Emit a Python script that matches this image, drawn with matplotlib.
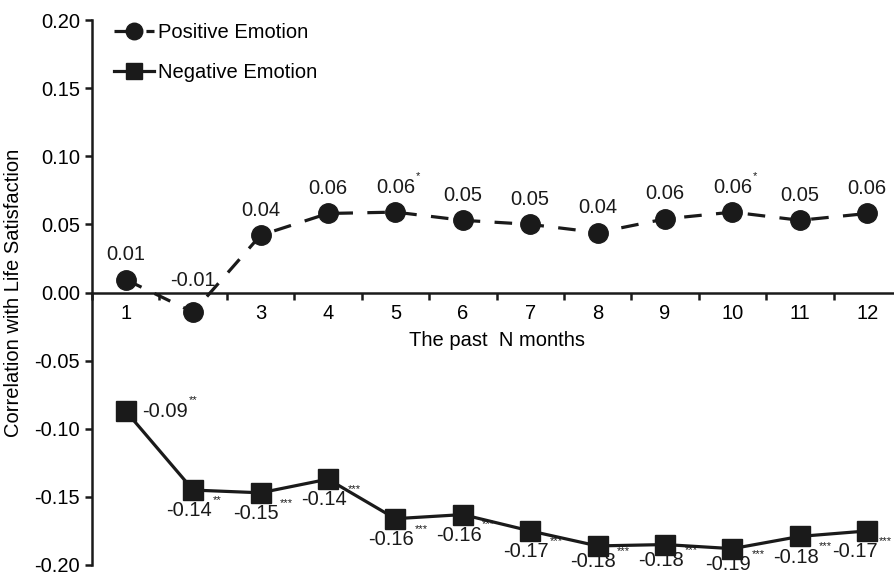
import matplotlib
matplotlib.use("Agg")
from matplotlib import pyplot as plt

# data
months = [1, 2, 3, 4, 5, 6, 7, 8, 9, 10, 11, 12]
positive = [0.0095, -0.0145, 0.042, 0.058, 0.059, 0.053, 0.050, 0.044, 0.054, 0.059, 0.053, 0.058]
negative = [-0.087, -0.145, -0.147, -0.137, -0.166, -0.163, -0.175, -0.186, -0.185, -0.188, -0.179, -0.175]

pos_labels = ["0.01", "-0.01", "0.04", "0.06", "0.06", "0.05", "0.05", "0.04", "0.06", "0.06", "0.05", "0.06"]
pos_stars = ["", "", "", "", "*", "", "", "", "", "*", "", ""]
neg_labels = ["-0.09", "-0.14", "-0.15", "-0.14", "-0.16", "-0.16", "-0.17", "-0.18", "-0.18", "-0.19", "-0.18", "-0.17"]
neg_stars = ["**", "**", "***", "***", "***", "***", "***", "***", "***", "***", "***", "***"]

yticks = [-0.20, -0.15, -0.10, -0.05, 0.00, 0.05, 0.10, 0.15, 0.20]

plt.rcParams['font.family'] = ['Liberation Sans', 'DejaVu Sans']
plt.rcParams['axes.unicode_minus'] = False
ink = '#1a1a1a'
fs = 14.5

fig = plt.figure(figsize=(8.94, 5.76), dpi=100)
ax = fig.add_axes([92/894, 1-565/576, (901-92)/894, (565-20)/576])

ax.plot(months, positive, color=ink, linewidth=2.3, dashes=(5.5, 4.5),
        marker='o', markersize=14, label='Positive Emotion')
ax.plot(months, negative, color=ink, linewidth=2.3,
        marker='s', markersize=14, label='Negative Emotion')

ax.set_xlim(0.5, 12.5)
ax.set_ylim(-0.20, 0.20)

# axes styling
ax.spines['top'].set_visible(False)
ax.spines['right'].set_visible(False)
ax.spines['bottom'].set_position(('data', 0))
for side in ['bottom', 'left']:
    ax.spines[side].set_linewidth(1.8)
    ax.spines[side].set_color(ink)

ax.set_yticks(yticks)
ax.set_yticklabels(['%.2f' % v for v in yticks])
ax.set_xticks(months)
ax.set_xticklabels([str(m) for m in months])
ax.set_xticks([m + 0.5 for m in [0] + months], minor=True)
ax.tick_params(axis='x', which='major', length=0, pad=8, labelsize=fs)
ax.tick_params(axis='x', which='minor', length=5, width=1.8, direction='out', color=ink)
ax.tick_params(axis='y', length=5, width=1.8, direction='out', labelsize=fs, color=ink)

ax.set_xlabel('The past  N months', fontsize=fs, labelpad=6)
ax.set_ylabel('Correlation with Life Satisfaction', fontsize=fs, labelpad=8)

# value labels, significance stars as small superscripts
def put_label(x, y, txt, stars, dx, dy, ha='center'):
    t = ax.annotate(txt, xy=(x, y), xytext=(dx, dy), textcoords='offset points',
                    ha=ha, va='center', fontsize=fs, color=ink)
    if stars:
        ax.annotate(stars, xy=(1, 1), xycoords=t, xytext=(0.5, 1),
                    textcoords='offset points', ha='left', va='center',
                    fontsize=8, color=ink)

for x, y, txt, st in zip(months, positive, pos_labels, pos_stars):
    dy = 23 if y < 0 else 18
    put_label(x, y, txt, st, 0, dy)

for i, (x, y, txt, st) in enumerate(zip(months, negative, neg_labels, neg_stars)):
    # labels near the bottom edge sit a little closer to their marker
    dy = -11.5 if y < -0.183 else -15
    if i == 0:
        put_label(x, y, txt, st, 12, 0, ha='left')
    elif i == len(months) - 1:
        put_label(x, y, txt, st, -9, dy)
    else:
        put_label(x, y, txt, st, -3, dy)

ax.legend(loc='upper left', bbox_to_anchor=(104/894, 1-13/576),
          bbox_transform=fig.transFigure, frameon=False, fontsize=fs,
          markerscale=0.85, handlelength=2.0, handletextpad=0.2,
          labelspacing=1.05, borderpad=0)

fig.savefig('out.png', dpi=100)
